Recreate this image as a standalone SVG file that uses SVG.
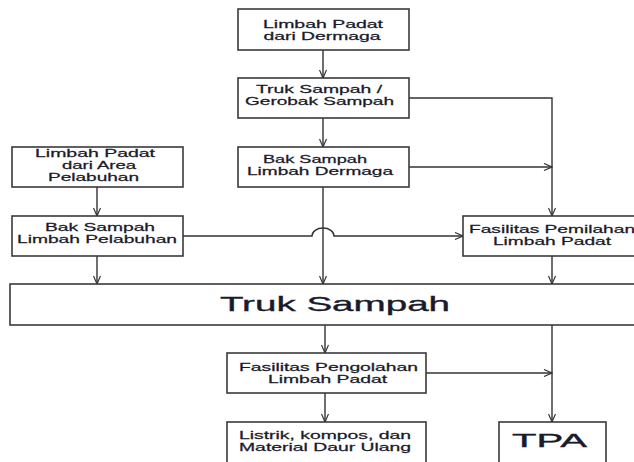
<svg xmlns="http://www.w3.org/2000/svg" width="634" height="462" viewBox="0 0 634 462">
<style>
.box{fill:#fff;stroke:#3a3a3a;stroke-width:1.6}
.t{font-family:"Liberation Sans",Arial,sans-serif;font-size:11.5px;fill:#1a1a2a;stroke:#1a1a2a;stroke-width:0.25;text-anchor:middle}
.big{font-size:21px;stroke-width:0.35}
.tpa{font-size:18px;stroke-width:0.35}
.c{fill:none;stroke:#333;stroke-width:1.4}
</style>
<defs>
<marker id="a" markerWidth="10" markerHeight="8" refX="9" refY="4" orient="auto" markerUnits="userSpaceOnUse">
<path d="M1,0.5 L9,4 L1,7.5" fill="none" stroke="#333" stroke-width="1.2"/>
</marker>
</defs>
<rect width="634" height="462" fill="#fff"/>
<g id="connectors">
<path class="c" d="M323,50 V78" marker-end="url(#a)"/>
<path class="c" d="M323,118 V147" marker-end="url(#a)"/>
<path class="c" d="M409,98 H552 V216" marker-end="url(#a)"/>
<path class="c" d="M409,167 H552" marker-end="url(#a)"/>
<path class="c" d="M97,187 V216" marker-end="url(#a)"/>
<path class="c" d="M183,236 H312 A11,8 0 0 1 334,236 H463" marker-end="url(#a)"/>
<path class="c" d="M97,256 V284" marker-end="url(#a)"/>
<path class="c" d="M323,187 V284" marker-end="url(#a)"/>
<path class="c" d="M552,256 V284" marker-end="url(#a)"/>
<path class="c" d="M325,325 V353" marker-end="url(#a)"/>
<path class="c" d="M325,393 V422" marker-end="url(#a)"/>
<path class="c" d="M552,325 V422" marker-end="url(#a)"/>
<path class="c" d="M426,373 H552" marker-end="url(#a)"/>
</g>
<g id="limbah-dermaga">
<rect class="box" x="238" y="9" width="171" height="41"/>
<text class="t" transform="translate(323,28) scale(1.6,1)" textLength="75" lengthAdjust="spacingAndGlyphs">Limbah Padat</text>
<text class="t" transform="translate(322,39.5) scale(1.6,1)" textLength="73.1" lengthAdjust="spacingAndGlyphs">dari Dermaga</text>
</g>
<g id="truk-gerobak">
<rect class="box" x="238" y="78" width="171" height="40"/>
<text class="t" transform="translate(319,93) scale(1.6,1)" textLength="78.8" lengthAdjust="spacingAndGlyphs">Truk Sampah /</text>
<text class="t" transform="translate(319.5,105) scale(1.6,1)" textLength="93.1" lengthAdjust="spacingAndGlyphs">Gerobak Sampah</text>
</g>
<g id="bak-dermaga">
<rect class="box" x="238" y="147" width="171" height="40"/>
<text class="t" transform="translate(315,163) scale(1.6,1)" textLength="65" lengthAdjust="spacingAndGlyphs">Bak Sampah</text>
<text class="t" transform="translate(320,174.5) scale(1.6,1)" textLength="91.3" lengthAdjust="spacingAndGlyphs">Limbah Dermaga</text>
</g>
<g id="limbah-pelabuhan">
<rect class="box" x="12" y="147" width="171" height="40"/>
<text class="t" transform="translate(95,157) scale(1.6,1)" textLength="75" lengthAdjust="spacingAndGlyphs">Limbah Padat</text>
<text class="t" transform="translate(99,169) scale(1.6,1)" textLength="46.3" lengthAdjust="spacingAndGlyphs">dari Area</text>
<text class="t" transform="translate(93.5,181) scale(1.6,1)" textLength="56.9" lengthAdjust="spacingAndGlyphs">Pelabuhan</text>
</g>
<g id="bak-pelabuhan">
<rect class="box" x="12" y="216" width="171" height="40"/>
<text class="t" transform="translate(100,231) scale(1.6,1)" textLength="68.8" lengthAdjust="spacingAndGlyphs">Bak Sampah</text>
<text class="t" transform="translate(97,242.5) scale(1.6,1)" textLength="100" lengthAdjust="spacingAndGlyphs">Limbah Pelabuhan</text>
</g>
<g id="pemilahan">
<rect class="box" x="463" y="216" width="180" height="40"/>
<text class="t" transform="translate(552,233) scale(1.6,1)" textLength="103.8" lengthAdjust="spacingAndGlyphs">Fasilitas Pemilahan</text>
<text class="t" transform="translate(552,245) scale(1.6,1)" textLength="73.8" lengthAdjust="spacingAndGlyphs">Limbah Padat</text>
</g>
<g id="truk-sampah">
<rect class="box" x="10" y="284" width="640" height="41"/>
<text class="t big" transform="translate(335,310.5) scale(1.6,1)" textLength="143.8" lengthAdjust="spacingAndGlyphs">Truk Sampah</text>
</g>
<g id="pengolahan">
<rect class="box" x="227" y="353" width="199" height="40"/>
<text class="t" transform="translate(328.5,371) scale(1.6,1)" textLength="111.9" lengthAdjust="spacingAndGlyphs">Fasilitas Pengolahan</text>
<text class="t" transform="translate(327.5,382.5) scale(1.6,1)" textLength="74.4" lengthAdjust="spacingAndGlyphs">Limbah Padat</text>
</g>
<g id="listrik">
<rect class="box" x="227" y="422" width="199" height="50"/>
<text class="t" transform="translate(325,439) scale(1.6,1)" textLength="107.5" lengthAdjust="spacingAndGlyphs">Listrik, kompos, dan</text>
<text class="t" transform="translate(325,450.5) scale(1.6,1)" textLength="107.5" lengthAdjust="spacingAndGlyphs">Material Daur Ulang</text>
</g>
<g id="tpa">
<rect class="box" x="499" y="422" width="107" height="50"/>
<text class="t tpa" transform="translate(549.5,447) scale(1.6,1)" textLength="46.9" lengthAdjust="spacingAndGlyphs">TPA</text>
</g>
</svg>
